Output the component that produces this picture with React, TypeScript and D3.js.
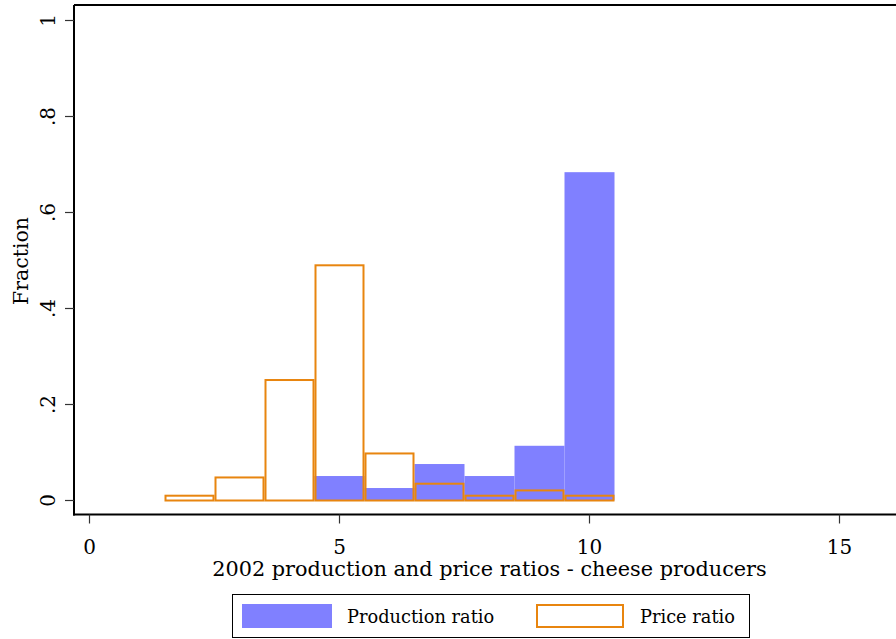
import React from "react";
import * as d3 from "d3";

const binCenters = [2, 3, 4, 5, 6, 7, 8, 9, 10];
const productionRatio = [0, 0, 0, 0.051, 0.026, 0.076, 0.051, 0.114, 0.684];
const priceRatio = [0.01, 0.048, 0.251, 0.49, 0.098, 0.035, 0.01, 0.021, 0.01];
const xTicks = [0, 5, 10, 15];
const yTicks = [0, 0.2, 0.4, 0.6, 0.8, 1];
const yTickLabels = ["0", ".2", ".4", ".6", ".8", "1"];
const xTitle = "2002 production and price ratios - cheese producers";
const yTitle = "Fraction";
const legendLabels = ["Production ratio", "Price ratio"];

const W = 896;
const H = 639;
const FONT = "'DejaVu Serif', serif";
const BLUE = "#8080ff";
const ORANGE = "#e8850f";

export default function App() {
  const x = d3.scaleLinear().domain([0, 15]).range([89.5, 839.5]);
  const y = d3.scaleLinear().domain([0, 1]).range([500.5, 20.5]);
  const axisLeft = 74;
  const axisBottom = 514.5;
  const plotTop = 5;

  return (
    <svg
      width={W}
      height={H}
      style={{ position: "fixed", left: 0, top: 0, background: "#fff" }}
      fontFamily={FONT}
    >
      <rect x={0} y={0} width={W} height={H} fill="#fff" />
      {binCenters.map((c, i) =>
        productionRatio[i] > 0 ? (
          <rect
            key={"p" + i}
            x={x(c - 0.5)}
            y={y(productionRatio[i])}
            width={x(c + 0.5) - x(c - 0.5)}
            height={y(0) - y(productionRatio[i])}
            fill={BLUE}
          />
        ) : null
      )}
      {binCenters.map((c, i) => (
        <rect
          key={"r" + i}
          x={x(c - 0.5) + 1}
          y={y(priceRatio[i])}
          width={x(c + 0.5) - x(c - 0.5) - 2}
          height={y(0) - y(priceRatio[i])}
          fill="none"
          stroke={ORANGE}
          strokeWidth={2}
        />
      ))}
      <line x1={axisLeft} x2={W + 5} y1={plotTop} y2={plotTop} stroke="#000" strokeWidth={2} />
      <line x1={axisLeft} x2={axisLeft} y1={plotTop} y2={axisBottom + 1} stroke="#000" strokeWidth={2} />
      <line x1={axisLeft - 1} x2={W + 5} y1={axisBottom} y2={axisBottom} stroke="#000" strokeWidth={2} />
      {yTicks.map((t, i) => (
        <g key={"yt" + i}>
          <line x1={axisLeft - 9} x2={axisLeft} y1={y(t)} y2={y(t)} stroke="#333" strokeWidth={1.2} />
          <text
            transform={`translate(${55},${y(t)}) rotate(-90)`}
            textAnchor="middle"
            fontSize={20}
            fill="#000"
          >
            {yTickLabels[i]}
          </text>
        </g>
      ))}
      <text
        transform={`translate(${28},${261}) rotate(-90)`}
        textAnchor="middle"
        fontSize={20.5}
        fill="#000"
      >
        {yTitle}
      </text>
      {xTicks.map((t, i) => (
        <g key={"xt" + i}>
          <line x1={x(t)} x2={x(t)} y1={axisBottom} y2={axisBottom + 9} stroke="#333" strokeWidth={1.2} />
          <text x={x(t)} y={554} textAnchor="middle" fontSize={20} fill="#000">
            {t}
          </text>
        </g>
      ))}
      <text x={489.5} y={576} textAnchor="middle" fontSize={20.8} fill="#000">
        {xTitle}
      </text>
      <rect x={232.5} y={594.5} width={517} height={43} fill="#fff" stroke="#000" strokeWidth={1} />
      <rect x={242} y={604} width={90} height={24} fill={BLUE} />
      <text x={347} y={623} fontSize={17.8} fill="#000">
        {legendLabels[0]}
      </text>
      <rect x={537} y={605} width={86} height={22} fill="none" stroke={ORANGE} strokeWidth={2} />
      <text x={640} y={623} fontSize={17.8} fill="#000">
        {legendLabels[1]}
      </text>
    </svg>
  );
}
